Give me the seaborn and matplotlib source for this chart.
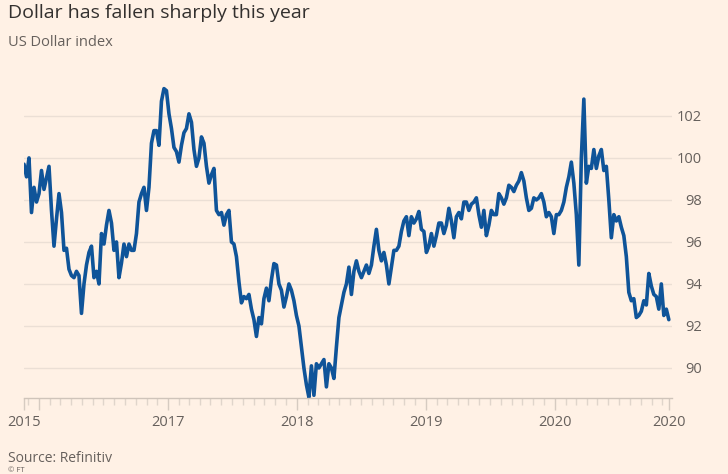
import matplotlib
matplotlib.use("Agg")
import matplotlib.pyplot as plt
import matplotlib.dates as mdates
import pandas as pd
import seaborn as sns

title = "Dollar has fallen sharply this year"
subtitle = "US Dollar index"
source = "Source: Refinitiv"
credit = "© FT"

start_date = "2015-11-20"
end_date = "2020-11-19"
values = [
    99.7, 99.1, 100.0, 97.4, 98.6, 97.9, 98.3, 99.4, 98.5, 99.05,
    99.6, 97.5, 95.8, 97.1, 98.3, 97.4, 95.6, 95.7, 94.7, 94.4,
    94.3, 94.6, 94.4, 92.6, 94.0, 94.9, 95.5, 95.8, 94.3, 94.6,
    94.0, 96.4, 95.9, 96.8, 97.5, 96.9, 95.6, 96.0, 94.3, 95.0,
    95.9, 95.3, 95.9, 95.6, 95.6, 96.4, 97.9, 98.3, 98.6, 97.5,
    98.6, 100.7, 101.3, 101.3, 100.6, 102.7, 103.3, 103.2, 102.1, 101.4,
    100.5, 100.3, 99.8, 100.6, 101.2, 101.4, 102.1, 101.7, 100.4, 99.6,
    100.0, 101.0, 100.7, 99.6, 98.8, 99.2, 99.5, 97.5, 97.3, 97.4,
    96.8, 97.3, 97.5, 96.0, 95.9, 95.3, 94.1, 93.1, 93.4, 93.3,
    93.5, 92.8, 92.3, 91.5, 92.4, 92.1, 93.3, 93.8, 93.2, 94.2,
    94.97, 94.9, 94.0, 93.7, 92.9, 93.4, 94.0, 93.7, 93.2, 92.5,
    92.0, 91.0, 90.0, 89.2, 88.6, 90.1, 88.7, 90.2, 90.0, 90.2,
    90.4, 89.1, 90.2, 90.0, 89.5, 91.0, 92.4, 93.0, 93.6, 94.0,
    94.8, 93.5, 94.6, 95.1, 94.6, 94.3, 94.6, 94.9, 94.5, 94.9,
    95.8, 96.6, 95.6, 95.1, 95.5, 94.9, 94.0, 94.8, 95.6, 95.6,
    95.8, 96.5, 97.0, 97.2, 96.3, 97.2, 96.9, 97.1, 97.45, 96.6,
    96.5, 95.5, 95.8, 96.4, 95.8, 96.3, 96.9, 96.9, 96.4, 96.8,
    97.6, 97.0, 96.2, 97.2, 97.4, 97.1, 97.9, 97.9, 97.5, 97.8,
    97.9, 98.1, 97.3, 96.7, 97.5, 96.3, 96.8, 97.5, 97.3, 97.3,
    98.3, 98.1, 97.8, 98.1, 98.7, 98.6, 98.4, 98.7, 98.9, 99.3,
    98.9, 98.1, 97.5, 97.6, 98.1, 98.0, 98.1, 98.3, 97.9, 97.2,
    97.4, 97.2, 96.4, 97.3, 97.3, 97.5, 97.9, 98.6, 99.1, 99.8,
    98.8, 97.3, 94.9, 100.0, 102.8, 98.8, 99.6, 99.5, 100.4, 99.5,
    100.1, 100.4, 99.4, 99.6, 98.0, 96.2, 97.3, 97.0, 97.2, 96.7,
    96.3, 95.3, 93.6, 93.2, 93.3, 92.4, 92.5, 92.7, 93.2, 93.0,
    94.5, 93.9, 93.5, 93.4, 92.8, 94.0, 92.5, 92.8, 92.3,
]
y_ticks = [90, 92, 94, 96, 98, 100, 102]
x_tick_dates = ["2015-11-20", "2016-01-01", "2017-01-01", "2018-01-01",
                "2019-01-01", "2020-01-01", "2020-11-19"]
x_tick_labels = ["2015", "", "2017", "2018", "2019", "2020", "2020"]

dates = pd.date_range(start_date, end_date, periods=len(values))
df = pd.DataFrame({"date": dates, "index": values})

sns.set_theme(style="white")
plt.rcParams["font.family"] = ["Open Sans", "DejaVu Sans"]

bg = "#fff1e5"
text_dark = "#33302e"
text_grey = "#66605c"
W, H = 728, 474

fig = plt.figure(figsize=(W / 100, H / 100), dpi=100, facecolor=bg)
ax = fig.add_axes([24 / W, 1 - 398 / H, (672 - 24) / W, (398 - 80) / H])
ax.set_facecolor(bg)

sns.lineplot(data=df, x="date", y="index", ax=ax, color="#0f5499",
             linewidth=2.6, solid_joinstyle="round", solid_capstyle="round")

ax.set_ylim(88.57, 103.71)
ax.set_xlim(pd.Timestamp(start_date), pd.Timestamp(start_date) + pd.Timedelta(days=1835))

ax.set_xlabel("")
ax.set_ylabel("")
for s in ["top", "left", "right"]:
    ax.spines[s].set_visible(False)
ax.spines["bottom"].set_color("#cfc4ba")
ax.spines["bottom"].set_linewidth(1.0)

ax.set_yticks(y_ticks)
ax.yaxis.tick_right()
ax.tick_params(axis="y", length=0, pad=21.6, labelsize=10.5, labelcolor=text_grey)
for lab in ax.get_yticklabels():
    lab.set_horizontalalignment("right")
ax.grid(axis="y", color="#ebdfd5", linewidth=1.0)
ax.grid(axis="x", visible=False)

ax.set_xticks([pd.Timestamp(d) for d in x_tick_dates])
ax.set_xticklabels(x_tick_labels)
ax.xaxis.set_minor_locator(mdates.MonthLocator())
ax.tick_params(axis="x", which="major", length=8.6, width=1.0, color="#d6cbc1",
               pad=4, labelsize=10.5, labelcolor=text_grey, direction="out", bottom=True)
ax.tick_params(axis="x", which="minor", length=5.0, width=1.0, color="#e0d5cb",
               direction="out", bottom=True)

fig.text(8 / W, 1 - 13 / H, title, fontsize=14, color=text_dark, va="center", ha="left")
fig.text(8 / W, 1 - 43 / H, subtitle, fontsize=10.5, color=text_grey, va="center", ha="left")
fig.text(8 / W, 1 - 459 / H, source, fontsize=10, color=text_grey, va="center", ha="left")
fig.text(8 / W, 1 - 473.5 / H, credit, fontsize=5.5, color=text_grey, va="bottom", ha="left")

fig.savefig("out.png", dpi=100, facecolor=bg)
